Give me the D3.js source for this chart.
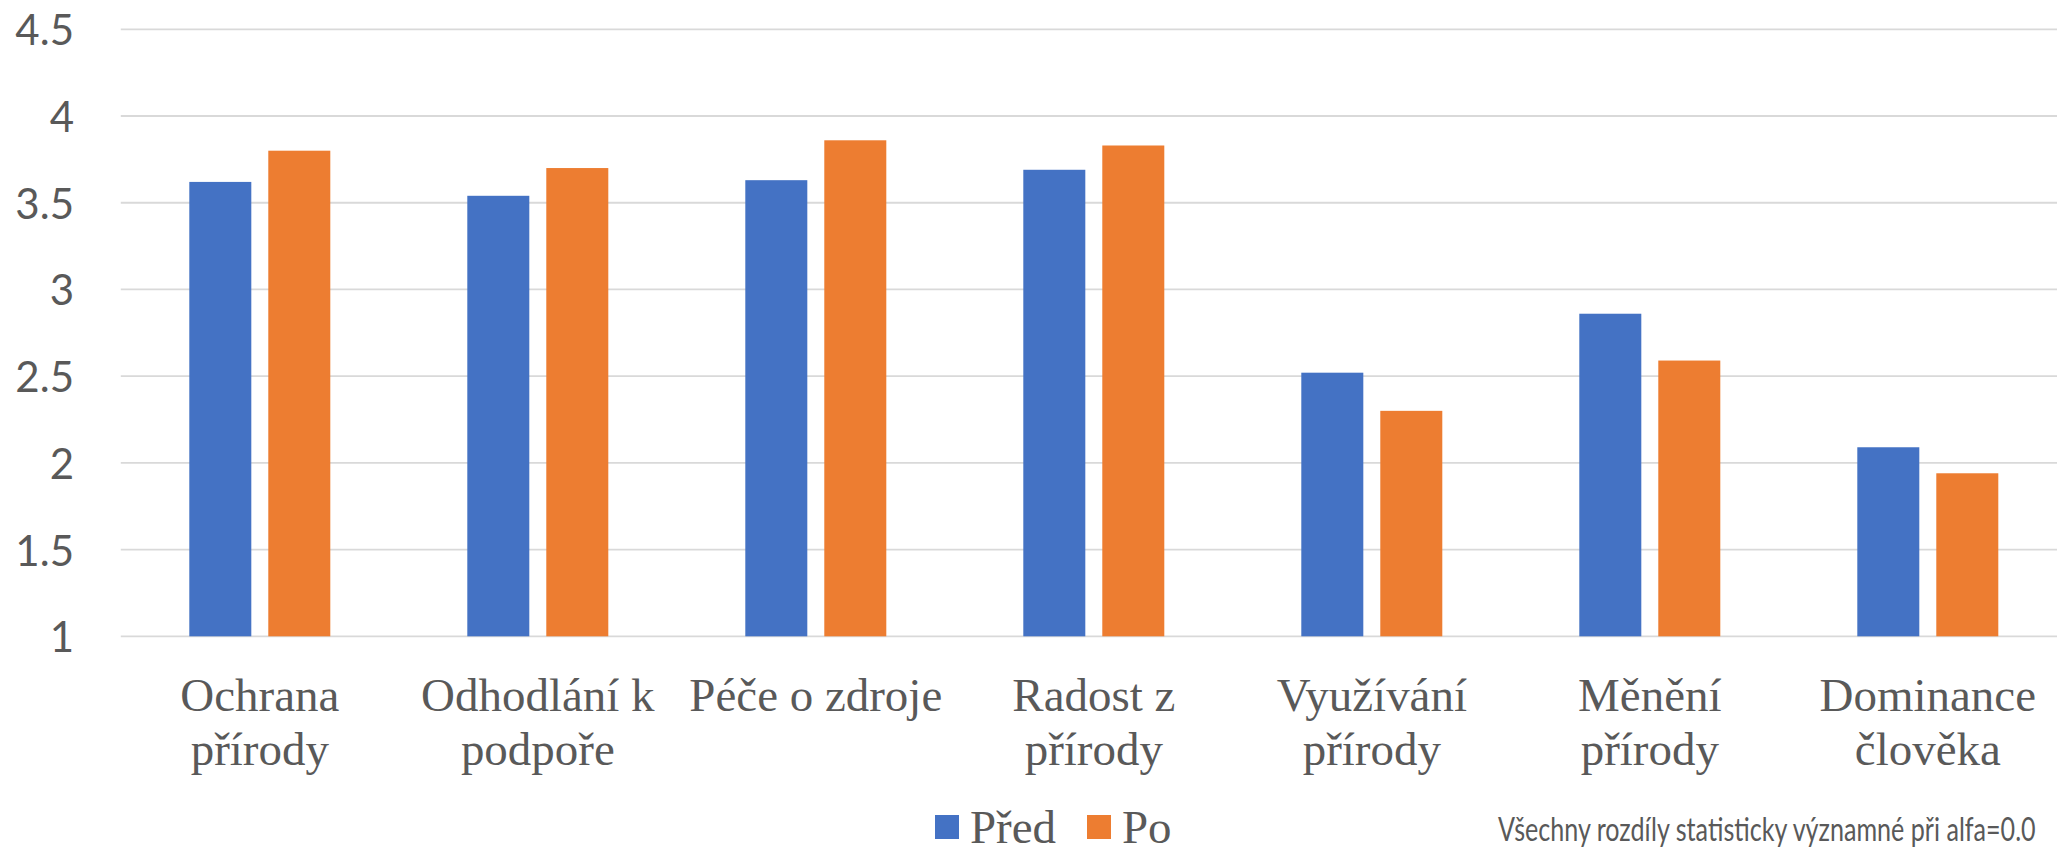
<!DOCTYPE html>
<html>
<head>
<meta charset="utf-8">
<script src="https://cdn.jsdelivr.net/npm/d3@7"></script>
<style>
  html, body { margin: 0; padding: 0; background: #ffffff; overflow: hidden; }
  svg { display: block; }
  .serif { font-family: "Liberation Serif", "Tinos", "Times New Roman", Times, "DejaVu Serif", "Noto Serif", serif; }
  .sans { font-family: Lato, "Open Sans", "Noto Sans", sans-serif; }
</style>
</head>
<body>
<svg id="chart" width="2057" height="852"></svg>
<script>
// ---- data ----
const categories = ["Ochrana přírody", "Odhodlání k podpoře", "Péče o zdroje", "Radost z přírody", "Využívání přírody", "Měnění přírody", "Dominance člověka"];
const seriesNames = ["Před", "Po"];
const predValues = [3.62, 3.54, 3.63, 3.69, 2.52, 2.86, 2.09];
const poValues = [3.80, 3.70, 3.86, 3.83, 2.30, 2.59, 1.94];
const yTicks = [1, 1.5, 2, 2.5, 3, 3.5, 4, 4.5];
const yTickLabels = ["1", "1.5", "2", "2.5", "3", "3.5", "4", "4.5"];
const footnote = "Všechny rozdíly statisticky významné při alfa=0.0";

const colors = { "Před": "#4472C4", "Po": "#ED7D31" };
const rows = categories.map((c, i) => ({ cat: c, "Před": predValues[i], "Po": poValues[i] }));

const svg = d3.select("#chart");
const W = 2057, H = 852;
const plotLeft = 120.8, step = 278;
const x0 = d3.scaleBand().domain(categories).range([plotLeft, plotLeft + step * categories.length]).paddingInner(0).paddingOuter(0);
const x1 = d3.scaleBand().domain(seriesNames).range([68.5, 209.5]).paddingInner(0.215).paddingOuter(0);
const y = d3.scaleLinear().domain([1, 4.5]).range([636.3, 29.3]);

const textGray = "#595959";

// gridlines
svg.append("g").selectAll("line").data(yTicks).join("line")
  .attr("x1", plotLeft).attr("x2", W + 20)
  .attr("y1", d => y(d)).attr("y2", d => y(d))
  .attr("stroke", "#d9d9d9").attr("stroke-width", 1.8);

// y-axis labels
svg.append("g").selectAll("text").data(yTicks).join("text")
  .attr("class", "sans")
  .attr("x", 74).attr("y", d => y(d))
  .attr("text-anchor", "end").attr("dominant-baseline", "central")
  .attr("font-size", 42)
  .attr("fill", textGray)
  .text((d, i) => yTickLabels[i]);

// bars
const groups = svg.append("g").selectAll("g").data(rows).join("g")
  .attr("transform", d => `translate(${x0(d.cat)},0)`);
groups.selectAll("rect").data(d => seriesNames.map(k => ({ key: k, value: d[k] }))).join("rect")
  .attr("x", d => x1(d.key)).attr("width", x1.bandwidth())
  .attr("y", d => y(d.value)).attr("height", d => y(1) - y(d.value))
  .attr("fill", d => colors[d.key]);

// horizontal scale so the label face matches the original's width ("Ochrana" ≈ 159px wide)
const probe = svg.append("text").attr("class", "serif").attr("font-size", 47).text("Ochrana");
const sx = 159 / probe.node().getComputedTextLength();

// category labels (wrapped like the office chart)
const maxW = 272;
const catG = svg.append("g");
categories.forEach(c => {
  const cx = x0(c) + x0.bandwidth() / 2;
  const words = c.split(" ");
  const lines = [];
  let cur = "";
  words.forEach(w => {
    const test = cur ? cur + " " + w : w;
    probe.text(test);
    if (probe.node().getComputedTextLength() * sx > maxW && cur) { lines.push(cur); cur = w; }
    else cur = test;
  });
  lines.push(cur);
  const t = catG.append("text").attr("class", "serif").attr("font-size", 47)
    .attr("fill", textGray).attr("text-anchor", "middle")
    .attr("transform", `translate(${cx},0) scale(${sx},1)`);
  lines.forEach((ln, i) => {
    t.append("tspan").attr("x", 0).attr("y", 711 + i * 54).text(ln);
  });
});
probe.remove();

// legend
const legend = svg.append("g");
const legendItems = [{ key: "Před", sx: 935, tx: 970 }, { key: "Po", sx: 1087, tx: 1122 }];
legendItems.forEach(it => {
  legend.append("rect").attr("x", it.sx).attr("y", 815).attr("width", 24).attr("height", 24).attr("fill", colors[it.key]);
  legend.append("text").attr("class", "serif")
    .attr("transform", `translate(${it.tx},843) scale(${sx},1)`)
    .attr("font-size", 47).attr("fill", textGray).text(it.key);
});

// footnote (narrow, tall face near the right edge, as in the original)
const fnProbe = svg.append("text").attr("class", "sans").attr("font-size", 25).text(footnote);
const fnFs = 25 * 538 / fnProbe.node().getComputedTextLength();
fnProbe.remove();
const fnSy = 33 / fnFs;
svg.append("text").attr("class", "sans")
  .attr("transform", `translate(1498,841) scale(1,${fnSy})`)
  .attr("font-size", fnFs).attr("fill", textGray)
  .text(footnote);
</script>
</body>
</html>
